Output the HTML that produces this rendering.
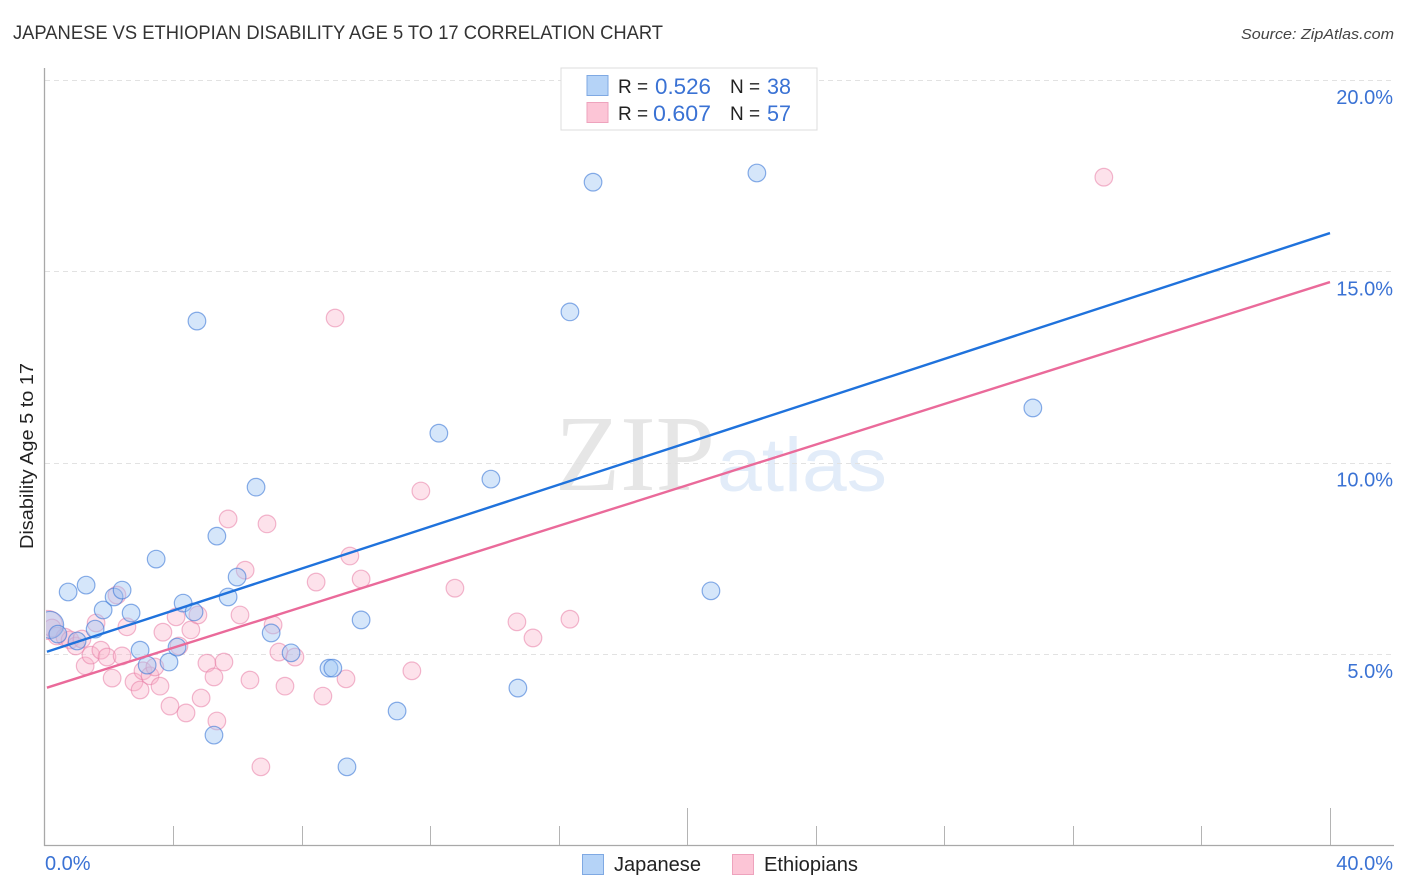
<!DOCTYPE html>
<html lang="en">
<head>
<meta charset="utf-8">
<title>Japanese vs Ethiopian Disability Age 5 to 17 Correlation Chart</title>
<style>
html,body{margin:0;padding:0;background:#fff;width:1406px;height:892px;overflow:hidden}
svg{display:block;font-family:"Liberation Sans",sans-serif}
</style>
</head>
<body>
<svg id="chart" width="1406" height="892" viewBox="0 0 1406 892" xmlns="http://www.w3.org/2000/svg">
  <defs>
    <clipPath id="plot-clip"><rect x="46" y="60" width="1348" height="785"/></clipPath>
  </defs>
  <rect x="0" y="0" width="1406" height="892" fill="#fff"/>
  <text x="13" y="39" font-size="19" fill="#333" textLength="650" lengthAdjust="spacingAndGlyphs">JAPANESE VS ETHIOPIAN DISABILITY AGE 5 TO 17 CORRELATION CHART</text>
  <text x="1394" y="39" font-size="15" font-style="italic" fill="#444" text-anchor="end" textLength="153" lengthAdjust="spacingAndGlyphs">Source: ZipAtlas.com</text>

  <g>
    <text x="555" y="490" font-family="'Liberation Serif',serif" font-size="108" fill="#e6e6e6" textLength="160" lengthAdjust="spacingAndGlyphs">ZIP</text>
    <text x="717" y="491" font-family="'Liberation Sans',sans-serif" font-size="76" fill="#e2ecf9" textLength="170" lengthAdjust="spacingAndGlyphs">atlas</text>
  </g>

  <g id="grid"></g>
  <g id="axes"></g>
  <g id="points-pink" clip-path="url(#plot-clip)"></g>
  <g id="points-blue" clip-path="url(#plot-clip)"></g>
  <g id="trends"></g>
  <g id="tick-labels"></g>

  <text transform="translate(33,456) rotate(-90)" font-size="18" fill="#222" text-anchor="middle" textLength="186" lengthAdjust="spacingAndGlyphs">Disability Age 5 to 17</text>

  <g>
    <rect x="561" y="68" width="256" height="62" fill="#fff" stroke="#dcdcdc" stroke-width="1"/>
    <rect x="587" y="75.5" width="21" height="20" fill="#b5d3f7" stroke="#7fa9e3" stroke-width="1"/>
    <rect x="587" y="102.5" width="21" height="20" fill="#fcc5d6" stroke="#eea3bd" stroke-width="1"/>
    <text x="618" y="93" font-size="19" fill="#222">R =</text>
    <text x="655" y="94" font-size="22" fill="#3a72d4" textLength="56" lengthAdjust="spacingAndGlyphs">0.526</text>
    <text x="730" y="93" font-size="19" fill="#222">N =</text>
    <text x="767" y="94" font-size="22" fill="#3a72d4" textLength="24" lengthAdjust="spacingAndGlyphs">38</text>
    <text x="618" y="120" font-size="19" fill="#222">R =</text>
    <text x="653" y="121" font-size="22" fill="#3a72d4" textLength="58" lengthAdjust="spacingAndGlyphs">0.607</text>
    <text x="730" y="120" font-size="19" fill="#222">N =</text>
    <text x="767" y="121" font-size="22" fill="#3a72d4" textLength="24" lengthAdjust="spacingAndGlyphs">57</text>
  </g>

  <g>
    <rect x="582.5" y="854.5" width="21" height="20" fill="#b5d3f7" stroke="#7fa9e3" stroke-width="1"/>
    <text x="614" y="871" font-size="20" fill="#222" textLength="87" lengthAdjust="spacingAndGlyphs">Japanese</text>
    <rect x="732.5" y="854.5" width="21" height="20" fill="#fcc5d6" stroke="#eea3bd" stroke-width="1"/>
    <text x="764" y="871" font-size="20" fill="#222" textLength="94" lengthAdjust="spacingAndGlyphs">Ethiopians</text>
  </g>
</svg>
<script>
const yTickValues = [5, 10, 15, 20];
const yTickLabels = ['5.0%', '10.0%', '15.0%', '20.0%'];
const xTickValues = [0, 4, 8, 12, 16, 20, 24, 28, 32, 36, 40];
const xEndLabels = ['0.0%', '40.0%'];
const majorXTicks = [20, 40];

const japaneseX = [0.16,0.72,1.28,1.81,2.15,2.40,2.68,1.56,1.00,0.40,2.96,3.18,3.86,4.11,4.30,4.64,3.46,5.35,4.73,5.70,5.98,6.57,7.04,7.66,8.84,8.96,9.40,9.84,10.96,12.26,13.88,14.72,16.34,17.06,20.73,22.16,30.75,5.26];
const japaneseY = [5.76,6.62,6.80,6.15,6.49,6.67,6.07,5.65,5.34,5.52,5.10,4.71,4.79,5.18,6.33,6.10,7.48,8.08,13.70,6.49,7.01,9.36,5.55,5.03,4.63,4.63,2.05,5.89,3.51,10.77,9.57,4.11,13.94,17.33,6.65,17.57,11.43,2.88];

const ethiopiansX = [0.09,0.22,0.37,0.62,0.78,0.96,1.15,1.25,1.43,1.59,1.74,1.93,2.09,2.24,2.40,2.55,2.77,2.96,3.05,3.27,3.42,3.58,3.67,3.89,4.08,4.17,4.39,4.54,4.76,4.86,5.04,5.26,5.35,5.57,5.70,6.07,6.23,6.38,6.72,6.91,7.10,7.28,7.47,7.78,8.44,8.65,9.03,9.37,9.49,9.84,11.42,11.70,12.76,14.69,15.19,16.34,32.96];
const ethiopiansY = [5.76,5.68,5.47,5.44,5.37,5.21,5.39,4.69,4.97,5.81,5.10,4.92,4.37,6.54,4.95,5.71,4.27,4.06,4.56,4.43,4.66,4.16,5.57,3.64,5.97,5.21,3.46,5.63,6.02,3.85,4.76,4.40,3.25,4.79,8.53,6.02,7.19,4.32,2.05,8.40,5.76,5.05,4.16,4.92,6.88,3.90,13.78,4.35,7.56,6.96,4.56,9.26,6.72,5.84,5.42,5.91,17.46];

const japaneseTrendX = [0.06, 40];
const japaneseTrendY = [5.06, 16.0];
const ethiopiansTrendX = [0.06, 40];
const ethiopiansTrendY = [4.12, 14.72];

const SVGNS = 'http://www.w3.org/2000/svg';
function xScale(v) { return 45 + v * (1330 - 45) / 40; }
function yScale(v) { return 654 - (v - 5) * (654 - 80) / 15; }
function make(tag, attrs, parent) {
  const el = document.createElementNS(SVGNS, tag);
  for (const k in attrs) el.setAttribute(k, attrs[k]);
  parent.appendChild(el);
  return el;
}

const gridG = document.getElementById('grid');
const axesG = document.getElementById('axes');
const labelsG = document.getElementById('tick-labels');
const blueG = document.getElementById('points-blue');
const pinkG = document.getElementById('points-pink');
const trendG = document.getElementById('trends');

yTickValues.forEach(function (v, i) {
  const y = Math.round(yScale(v)) + 0.5;
  const g = make('line', {x1: 45, x2: 1393, y1: y, y2: y, stroke: '#e2e2e2', 'stroke-width': 1, 'stroke-dasharray': '5 4'}, gridG);
  
  
  const t = make('text', {x: 1393, y: yScale(v) + 24, 'font-size': 20, fill: '#3a72d4', 'text-anchor': 'end'}, labelsG);
  t.textContent = yTickLabels[i];
  
  
});

const yAxis = make('line', {x1: 44.5, x2: 44.5, y1: 68, y2: 846, stroke: '#a8a8a8', 'stroke-width': 1.3}, axesG);


const xAxis = make('line', {x1: 44, x2: 1394, y1: 845.5, y2: 845.5, stroke: '#a8a8a8', 'stroke-width': 1.3}, axesG);



xTickValues.forEach(function (v) {
  if (v === 0) return;
  const x = Math.floor(xScale(v)) + 0.5;
  const top = majorXTicks.indexOf(v) >= 0 ? 808 : 826;
  const tick = make('line', {x1: x, x2: x, y1: top, y2: 845, stroke: '#b4b4b4', 'stroke-width': 1}, axesG);
  
  
});

const xStart = make('text', {x: 45, y: 870, 'font-size': 20, fill: '#3a72d4'}, labelsG);
xStart.textContent = xEndLabels[0];


const xEnd = make('text', {x: 1393, y: 870, 'font-size': 20, fill: '#3a72d4', 'text-anchor': 'end'}, labelsG);
xEnd.textContent = xEndLabels[1];



ethiopiansX.forEach(function (v, i) {
  const c = make('circle', {cx: xScale(v), cy: yScale(ethiopiansY[i]), r: i === 0 ? 14.5 : 8.8, fill: 'rgba(249,178,203,0.38)', stroke: 'rgba(232,125,165,0.55)', 'stroke-width': 1.2}, pinkG);
  
  
});
japaneseX.forEach(function (v, i) {
  const c = make('circle', {cx: xScale(v), cy: yScale(japaneseY[i]), r: i === 0 ? 13.5 : 8.8, fill: 'rgba(160,198,243,0.44)', stroke: 'rgba(60,120,215,0.6)', 'stroke-width': 1.2}, blueG);
  
  
});

const blueTrend = make('line', {x1: xScale(japaneseTrendX[0]), y1: yScale(japaneseTrendY[0]), x2: xScale(japaneseTrendX[1]), y2: yScale(japaneseTrendY[1]), stroke: '#1f72dc', 'stroke-width': 2.4}, trendG);


const pinkTrend = make('line', {x1: xScale(ethiopiansTrendX[0]), y1: yScale(ethiopiansTrendY[0]), x2: xScale(ethiopiansTrendX[1]), y2: yScale(ethiopiansTrendY[1]), stroke: '#ea6a9a', 'stroke-width': 2.4}, trendG);


</script>
</body>
</html>
